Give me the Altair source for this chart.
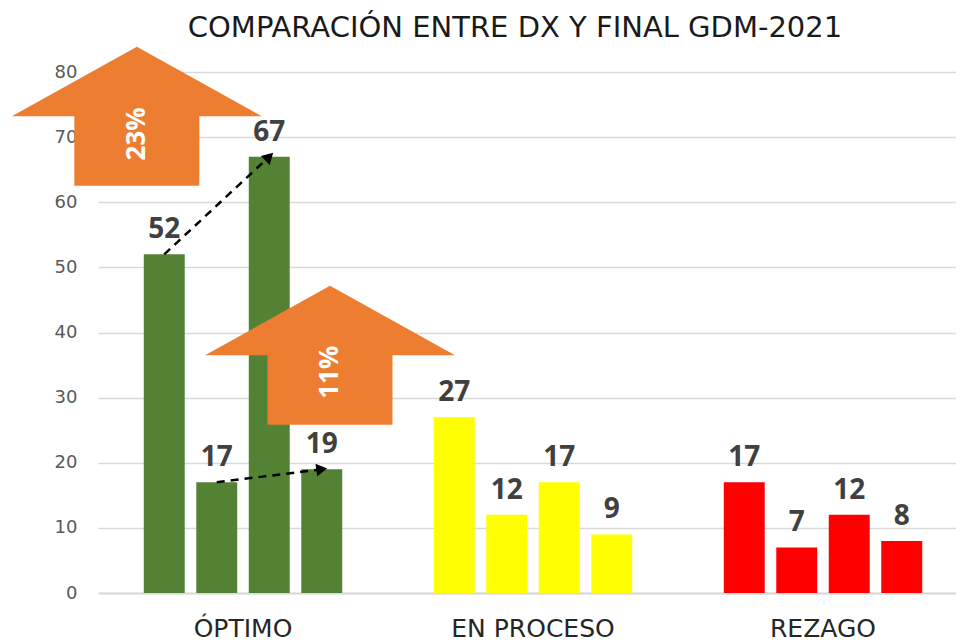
import altair as alt
import pandas as pd

# ---- data ----
categories = ["ÓPTIMO", "EN PROCESO", "REZAGO"]
series = ["S1", "S2", "S3", "S4"]
optimo = [52, 17, 67, 19]
en_proceso = [27, 12, 17, 9]
rezago = [17, 7, 12, 8]
bar_colors = ["#548235", "#FFFF00", "#FF0000"]

# dashed trend arrows (from series -> to series, within ÓPTIMO)
trend_pair = ["a", "a", "b", "b"]
trend_serie = ["S1", "S3", "S2", "S4"]
trend_value = [52, 67, 17, 19]
head_angle = [46, 82]          # arrowhead rotation (degrees)

# orange block-arrow annotations (x in group units, y in value units)
note_x = [0.134, 0.80]
note_y = [73.2, 36.5]
note_text = ["23%", "11%"]
note_text_y = [70.5, 33.9]

# ---- tables ----
rows = []
for cat, vals in zip(categories, [optimo, en_proceso, rezago]):
    for s, v in zip(series, vals):
        rows.append({"category": cat, "serie": s, "value": v})
bars_df = pd.DataFrame(rows)

trend_df = pd.DataFrame({
    "category": ["ÓPTIMO"] * 4,
    "pair": trend_pair,
    "serie": trend_serie,
    "value": trend_value,
})
heads_df = trend_df.iloc[[1, 3]].copy()
heads_df["angle"] = head_angle

notes_df = pd.DataFrame({"gx": note_x, "y": note_y, "label": note_text, "ty": note_text_y})

FONT = "DejaVu Sans"
BOLD_FONT = "Open Sans"
PLOT_W, PLOT_H = 858, 521
BAND_RANGE = [0, 870]

x_band = alt.X(
    "category:N", sort=categories,
    scale=alt.Scale(range=BAND_RANGE, paddingInner=0, paddingOuter=0),
    axis=alt.Axis(title=None, labelAngle=0, labelFontSize=25, labelFont=FONT,
                  labelColor="#262626", labelPadding=23, ticks=False,
                  domainColor="#D9D9D9", domainWidth=2),
)
x_off = alt.XOffset("serie:N", sort=series,
                    scale=alt.Scale(paddingInner=0.22, paddingOuter=0.872))
y_enc = alt.Y(
    "value:Q", scale=alt.Scale(domain=[0, 80]),
    axis=alt.Axis(title=None, values=list(range(0, 81, 10)), grid=True,
                  gridColor="#D9D9D9", gridWidth=1.5, domain=False, ticks=False,
                  labelFontSize=18, labelFont=FONT, labelColor="#595959",
                  labelPadding=21),
)

bars = alt.Chart(bars_df).mark_bar().encode(
    x=x_band, xOffset=x_off, y=y_enc,
    color=alt.Color("category:N", scale=alt.Scale(domain=categories, range=bar_colors), legend=None),
)
labels = alt.Chart(bars_df).mark_text(
    dy=-16, baseline="alphabetic", fontSize=28, fontWeight="bold", font=BOLD_FONT, color="#404040"
).encode(x=x_band, xOffset=x_off, y="value:Q", text="value:Q")

dash = alt.Chart(trend_df).mark_line(
    strokeDash=[8, 6], color="black", strokeWidth=2.5
).encode(x=x_band, xOffset=x_off, y="value:Q", detail="pair:N")

heads = alt.Chart(heads_df).mark_point(
    shape="triangle-up", filled=True, color="black", opacity=1, size=160
).encode(x=x_band, xOffset=x_off, y="value:Q", angle=alt.Angle("angle:Q", scale=None))

base = alt.layer(bars, labels, dash, heads)

arrow_path = "M 0 -0.556 L 1 0 L 0.5 0 L 0.5 0.556 L -0.5 0.556 L -0.5 0 L -1 0 Z"
x_q = alt.X("gx:Q", scale=alt.Scale(domain=[0, 3], range=BAND_RANGE, nice=False, zero=False), axis=None)
arrows = alt.Chart(notes_df).mark_point(
    shape=arrow_path, filled=True, color="#ED7D31", opacity=1, size=62500, strokeWidth=0
).encode(x=x_q, y=alt.Y("y:Q"))
arrow_text = alt.Chart(notes_df).mark_text(
    angle=270, fontSize=26, fontWeight="bold", font=BOLD_FONT, color="white", baseline="middle", align="center"
).encode(x=x_q, y=alt.Y("ty:Q"), text="label:N")

annot = alt.layer(arrows, arrow_text)

chart = alt.layer(base, annot).resolve_scale(x="independent").properties(
    width=PLOT_W, height=PLOT_H,
    autosize=alt.AutoSizeParams(type="none"),
    padding={"left": 90, "top": 64, "right": 0, "bottom": 49},
    title=alt.TitleParams("COMPARACIÓN ENTRE DX Y FINAL GDM-2021", fontSize=29, font=FONT,
                          fontWeight="normal", color="#1a1a1a", anchor="middle", dx=-12, offset=4),
).configure_view(stroke=None)

chart.save("out.html", embed_options={"renderer": "svg", "actions": False})
